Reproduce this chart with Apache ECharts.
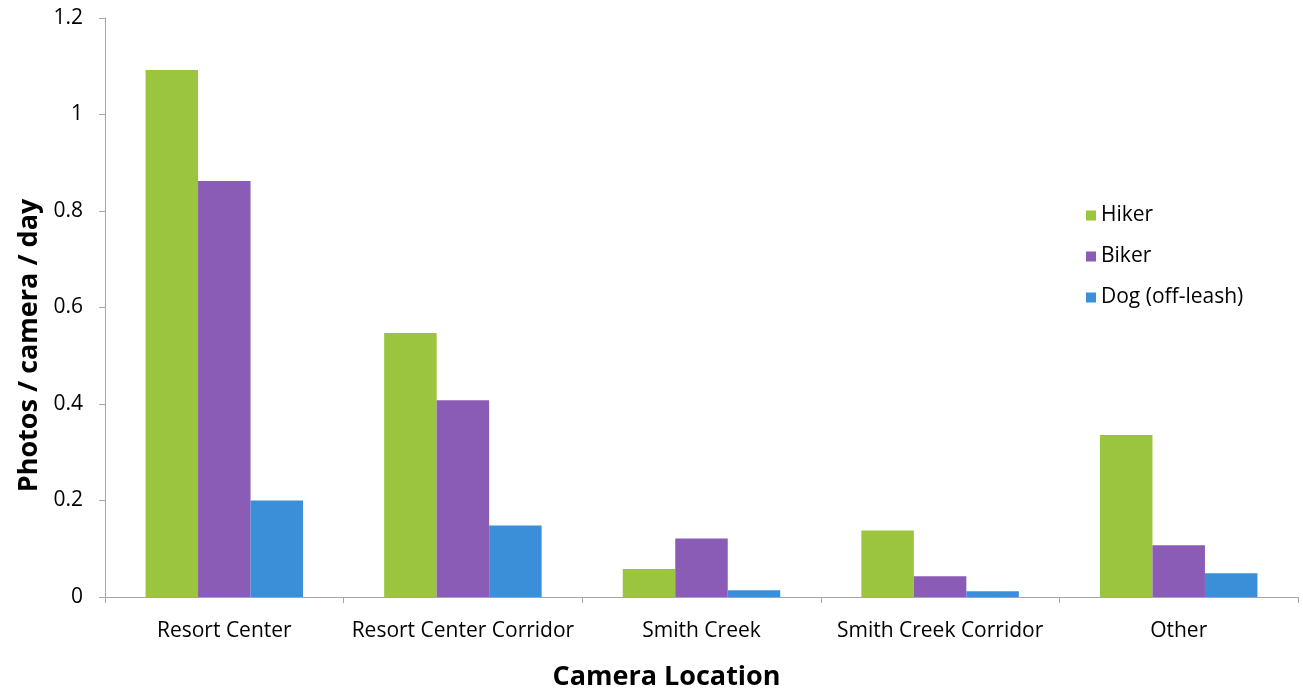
<!DOCTYPE html>
<html><head><meta charset="utf-8">
<script src="https://cdn.jsdelivr.net/npm/echarts@6/dist/echarts.min.js"></script>
<style>html,body{margin:0;padding:0;background:#fff}#c{width:1303px;height:696px}</style>
</head><body><div id="c"></div>
<script>
const categories = ['Resort Center', 'Resort Center Corridor', 'Smith Creek', 'Smith Creek Corridor', 'Other'];
const hiker = [1.092, 0.547, 0.058, 0.138, 0.336];
const biker = [0.862, 0.408, 0.121, 0.043, 0.107];
const dog = [0.200, 0.148, 0.014, 0.012, 0.049];
const seriesNames = ['Hiker', 'Biker', 'Dog (off-leash)'];
const colors = ['#9bc53f', '#8a5cb5', '#3a8fd8'];
const font = 'Open Sans';
const chart = echarts.init(document.getElementById('c'));
chart.setOption({
  animation: false,
  textStyle: {fontFamily: font},
  grid: {left: 105, right: 5, top: 18, height: 585},
  legend: {
    orient: 'vertical', left: 1081, top: 200, itemGap: 20,
    itemWidth: 10, itemHeight: 10, icon: 'rect',
    textStyle: {fontFamily: font, fontSize: 21, color: '#000'},
    data: seriesNames
  },
  xAxis: {
    type: 'category', data: categories,
    name: 'Camera Location', nameLocation: 'middle', nameGap: 67,
    nameTextStyle: {fontFamily: font, fontSize: 27, fontWeight: 'bold', color: '#000', padding: [0, 70, 0, 0]},
    axisLine: {lineStyle: {color: '#a6a6a6'}},
    axisTick: {show: true, length: 6, lineStyle: {color: '#a6a6a6'}},
    axisLabel: {fontFamily: font, fontSize: 21, color: '#000', margin: 24, interval: 0}
  },
  yAxis: {
    type: 'value', min: 0, max: 1.2, interval: 0.2,
    name: 'Photos / camera / day', nameLocation: 'middle', nameGap: 62,
    nameTextStyle: {fontFamily: font, fontSize: 27, fontWeight: 'bold', color: '#000', padding: [0, 76, 0, 0]},
    axisLine: {show: true, lineStyle: {color: '#a6a6a6'}},
    axisTick: {show: true, length: 6, lineStyle: {color: '#a6a6a6'}},
    splitLine: {show: false},
    axisLabel: {fontFamily: font, fontSize: 21, color: '#000', margin: 22,
      formatter: v => String(Math.round(v * 10) / 10)}
  },
  series: [
    {name: seriesNames[0], type: 'bar', data: hiker, itemStyle: {color: colors[0]}, barGap: '0%', barCategoryGap: '34%'},
    {name: seriesNames[1], type: 'bar', data: biker, itemStyle: {color: colors[1]}, barGap: '0%', barCategoryGap: '34%'},
    {name: seriesNames[2], type: 'bar', data: dog, itemStyle: {color: colors[2]}, barGap: '0%', barCategoryGap: '34%'}
  ]
});
</script></body></html>
